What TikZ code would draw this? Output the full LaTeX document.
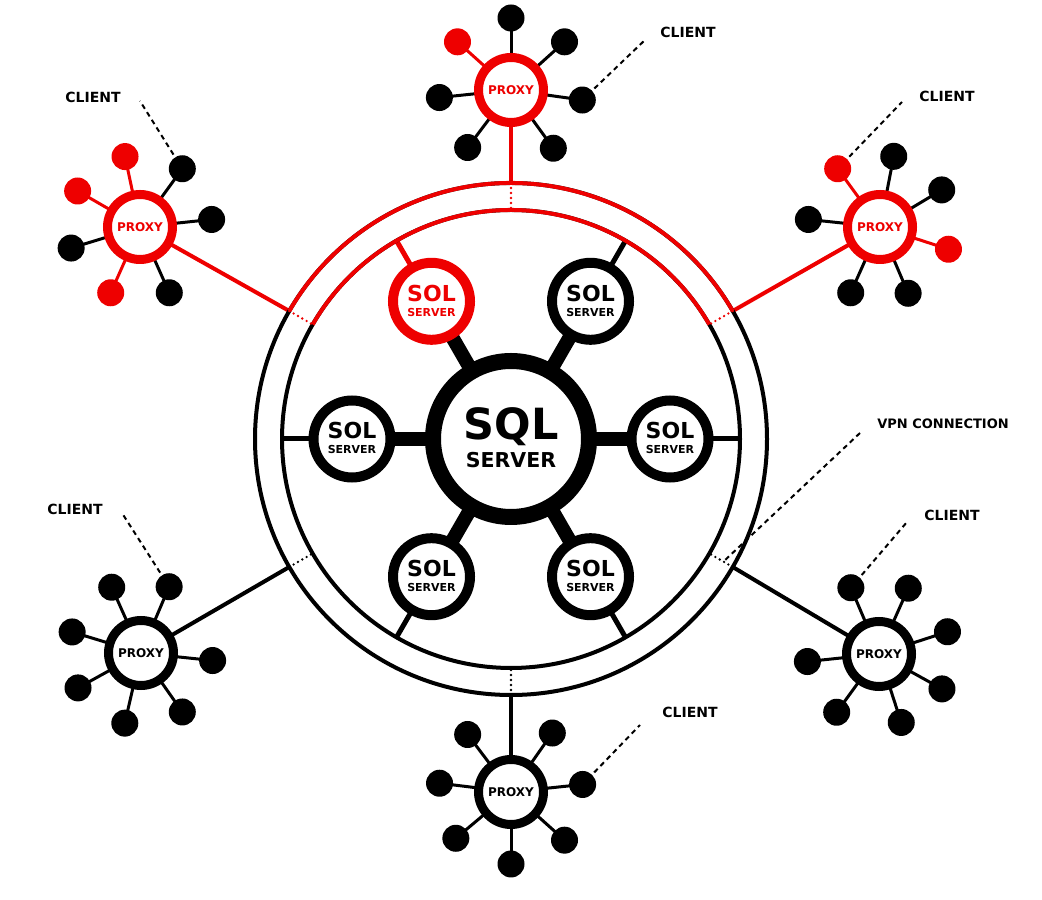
\documentclass[tikz,border=0pt]{standalone}
\usepackage{fontspec}
\setmainfont{DejaVu Sans}
\usetikzlibrary{calc}
\definecolor{netred}{RGB}{238,0,0}
\pgfdeclarelayer{background}
\pgfsetlayers{background,main}
\newcommand{\drawsats}[2]{%
  \foreach \a/\c [count=\i] in {#2} {%
    \node[sat, fill=\c] (#1-\i) at ($(#1)+(\a:72)$) {};
    \begin{pgfonlayer}{background}
      \draw[satline, draw=\c] (#1.center) -- (#1-\i.center);
    \end{pgfonlayer}
  }%
}
\begin{document}
\begin{tikzpicture}[x=1pt,y=1pt,
  ring/.style={circle, draw, line width=4pt, inner sep=0pt, outer sep=0pt},
  sqlhub/.style={circle, draw, fill=white, line width=16pt, minimum size=156pt, inner sep=0pt},
  solnode/.style={circle, draw, fill=white, line width=10pt, minimum size=77pt, inner sep=0pt},
  proxynode/.style={circle, draw, fill=white, line width=9pt, minimum size=65pt, inner sep=0pt},
  sat/.style={circle, minimum size=27pt, inner sep=0pt},
  satline/.style={line width=3pt},
  hubspoke/.style={line width=14pt},
  solspoke/.style={line width=5pt},
  uplink/.style={line width=4pt},
  vpndots/.style={line width=2.6pt, line cap=round, dash pattern=on 0pt off 5pt},
  clientline/.style={line width=2pt, dash pattern=on 5pt off 4pt},
  lbl/.style={font=\bfseries\fontsize{14}{14}\selectfont, inner sep=0pt},
  bigtxt/.style={font=\bfseries\fontsize{43}{43}\selectfont, inner sep=0pt, anchor=base},
  bigsub/.style={font=\bfseries\fontsize{20.5}{20.5}\selectfont, inner sep=0pt, anchor=base},
  soltxt/.style={font=\bfseries\fontsize{22}{22}\selectfont, inner sep=0pt, anchor=base},
  solsub/.style={font=\bfseries\fontsize{11}{11}\selectfont, inner sep=0pt, anchor=base},
  proxytxt/.style={font=\bfseries\fontsize{12}{12}\selectfont, inner sep=0pt, anchor=base}
]
\useasboundingbox (0,0) rectangle (1042,900);

\coordinate (C) at (511,461);

% rings
\node[ring, minimum size=512pt] (ro) at (C) {};
\node[ring, minimum size=458pt] (ri) at (C) {};
\draw[netred, line width=4pt] (ro.30) arc[start angle=30, end angle=150, radius=256];
\draw[netred, line width=4pt] (ri.30) arc[start angle=30, end angle=150, radius=229];

% central SQL server
\node[sqlhub] (sql) at (C) {};
\node[bigtxt] (sqlA) at ($(sql)+(0,-1)$) {SQL};
\node[bigsub] (sqlB) at ($(sql)+(0,-29)$) {SERVER};

% SOL servers
\foreach \a/\n in {0/solR,60/solUR,180/solL,240/solDL,300/solDR} {
  \node[solnode] (\n) at ($(C)+(\a:159)$) {};
  \node[soltxt] (\n-a) at (\n) {SOL};
  \node[solsub] (\n-b) at ($(\n)+(0,-15)$) {SERVER};
  \begin{pgfonlayer}{background}
    \draw[hubspoke] (sql.center) -- (\n.center);
    \draw[solspoke] (\n.center) -- (ri.\a);
  \end{pgfonlayer}
}
\node[solnode, draw=netred] (solUL) at ($(C)+(120:159)$) {};
\node[soltxt, text=netred] (solUL-a) at (solUL) {SOL};
\node[solsub, text=netred] (solUL-b) at ($(solUL)+(0,-15)$) {SERVER};
\begin{pgfonlayer}{background}
  \draw[hubspoke] (sql.center) -- (solUL.center);
  \draw[solspoke, netred] (solUL.center) -- (ri.120);
\end{pgfonlayer}

% proxies
\node[proxynode, draw=netred] (pT) at (511,810) {};
\node[proxynode, draw=netred] (pTL) at (140,673) {};
\node[proxynode, draw=netred] (pTR) at (880,673) {};
\node[proxynode] (pBL) at (141,247) {};
\node[proxynode] (pBR) at (879,246) {};
\node[proxynode] (pB) at (511,108) {};
\foreach \n/\c in {pT/netred,pTL/netred,pTR/netred,pBL/black,pBR/black,pB/black}
  \node[proxytxt, text=\c] (\n-t) at ($(\n)+(0,-4.5)$) {PROXY};

% uplinks and VPN dots
\begin{pgfonlayer}{background}
  \draw[uplink, netred] (pT.center) -- (ro.90);
  \draw[uplink, netred] (pTL.center) -- (ro.150);
  \draw[uplink, netred] (pTR.center) -- (ro.30);
  \draw[uplink] (pBL.center) -- (ro.210);
  \draw[uplink] (pBR.center) -- (ro.330);
  \draw[uplink] (pB.center) -- (ro.270);
\end{pgfonlayer}
\draw[vpndots, netred] (ro.90) -- (ri.90);
\draw[vpndots, netred] (ro.150) -- (ri.150);
\draw[vpndots, netred] (ro.30) -- (ri.30);
\draw[vpndots] (ro.210) -- (ri.210);
\draw[vpndots] (ro.330) -- (ri.330);
\draw[vpndots] (ro.270) -- (ri.270);

% clients
\drawsats{pTL}{102/netred,54/black,6/black,150/netred,197/black,246/netred,294/black}
\drawsats{pT}{90/black,42/black,-8/black,-54/black,-127/black,186/black,138/netred}
\drawsats{pTR}{126/netred,79/black,31/black,174/black,-18/netred,246/black,293/black}
\drawsats{pBL}{114/black,67/black,163/black,-6/black,209/black,257/black,305/black}
\drawsats{pBR}{113/black,66/black,18/black,186/black,331/black,234/black,288/black}
\drawsats{pB}{127/black,55/black,173/black,6/black,220/black,318/black,270/black}

% labels
\node[lbl] (lT) at (688,868) {CLIENT};
\node[lbl] (lTL) at (93,803) {CLIENT};
\node[lbl] (lTR) at (947,804) {CLIENT};
\node[lbl] (lBL) at (75,391) {CLIENT};
\node[lbl] (lBR) at (952,385) {CLIENT};
\node[lbl] (lB) at (690,188) {CLIENT};
\node[lbl, font=\bfseries\fontsize{13}{13}\selectfont] (lVPN) at (943,476) {VPN CONNECTION};

\coordinate (eT) at (645,860);
\coordinate (eTL) at (140,799);
\coordinate (eTR) at (902,798);
\coordinate (eBL) at (122,387);
\coordinate (eBR) at (907,378);
\coordinate (eB) at (640,175);
\coordinate (eVPN) at (860,467);
\coordinate (vpnEnd) at (723,338);

\draw[clientline, shorten <=3pt] (pT-3) -- (eT);
\draw[clientline, shorten <=3pt] (pTL-2) -- (eTL);
\draw[clientline, shorten <=3pt] (pTR-1) -- (eTR);
\draw[clientline, shorten <=3pt] (pBL-2) -- (eBL);
\draw[clientline, shorten <=3pt] (pBR-1) -- (eBR);
\draw[clientline, shorten <=3pt] (pB-4) -- (eB);
\draw[clientline] (eVPN) -- (vpnEnd);
\end{tikzpicture}
\end{document}
